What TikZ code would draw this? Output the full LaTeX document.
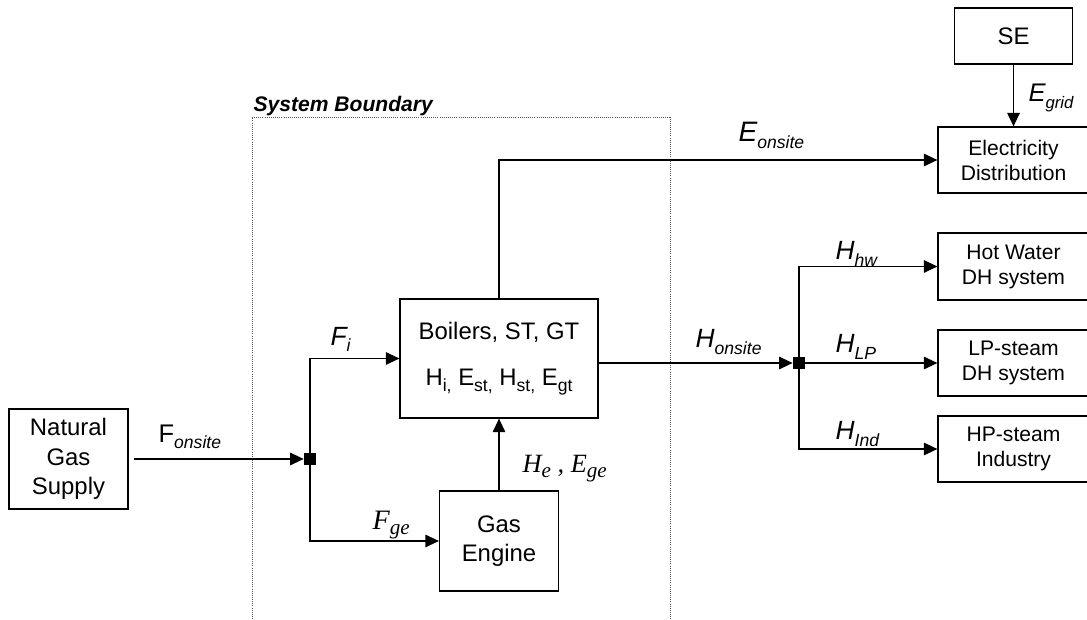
\documentclass[tikz,border=0pt]{standalone}
\usepackage{fontspec}
\setmainfont{Liberation Sans}
\newfontfamily\tms{Liberation Serif}
\usetikzlibrary{arrows.meta}
\newcommand{\sbs}[1]{\raisebox{-0.45ex}{\fontsize{10}{12}\selectfont #1}}
\newcommand{\flow}[2]{{\fontsize{15}{18}\selectfont\itshape #1\sbs{#2}}}
\newcommand{\tsb}[1]{\raisebox{-0.45ex}{\fontsize{12}{14}\selectfont #1}}
\begin{document}
\begin{tikzpicture}[x=1cm,y=1cm,line width=0.7pt,
  boxl/.style={draw,rectangle,inner sep=0pt,align=center,font=\fontsize{13.6}{16.8}\selectfont},
  boxr/.style={draw,rectangle,inner sep=0pt,align=center,minimum width=3.02cm,minimum height=1.32cm,font=\fontsize{12}{14.2}\selectfont},
  jct/.style={fill=black,rectangle,minimum size=0.23cm,inner sep=0pt},
  flowlbl/.style={anchor=base west,inner sep=0pt},
  flw/.style={-{Triangle[length=0.27cm,width=0.25cm]}},
  bndry/.style={draw=black!65,line width=0.4pt,dash pattern=on 0.5pt off 0.7pt}]
\path[use as bounding box] (0,0) rectangle (21.74,12.38);
% System boundary, open at the bottom.
\draw[bndry] (5.0400,0.0000) -- (5.0400,10.0400) -- (13.4000,10.0400) -- (13.4000,0.0000);
\node[flowlbl,font=\fontsize{12}{14}\selectfont\bfseries\itshape] (sblbl) at (5.0600,10.1400) {System Boundary};
% Node ngs: fuel source.
\node[boxl,minimum width=2.38cm,minimum height=2.0cm] (ngs) at (1.3700,3.2000) {Natural\\Gas\\Supply};
% Node boil: onsite plant.
\node[boxl,minimum width=3.96cm,minimum height=2.38cm] (boil) at (9.9800,5.2100) {Boilers, ST, GT\\[9.8pt]H\sbs{i,} E\sbs{st,} H\sbs{st,} E\sbs{gt}};
% Node ge: gas engine.
\node[boxl,minimum width=2.38cm,minimum height=2.0cm] (ge) at (9.9800,1.5600) {Gas\\Engine};
% Node se: grid.
\node[boxl,minimum width=2.36cm,minimum height=1.12cm] (se) at (20.2700,11.6600) {SE};
% Nodes elec, hw, lp, hp: consumers.
\node[boxr] (elec) at (20.2700,9.1800) {Electricity\\Distribution};
\node[boxr,minimum height=1.34cm] (hw) at (20.2700,7.0500) {Hot Water\\DH system};
\node[boxr] (lp) at (20.2700,5.1200) {LP-steam\\DH system};
\node[boxr] (hp) at (20.2700,3.4000) {HP-steam\\Industry};
% Nodes j1, j2: junctions.
\node[jct] (j1) at (6.2000,3.2000) {};
\node[jct] (j2) at (15.9800,5.1200) {};
% Fuel edges.
\draw[flw,shorten <=0.1cm] (ngs.east) -- (j1.west);
\draw[flw] (j1.center) |- (boil.west);
\draw[flw] (j1.center) |- (ge.west);
\draw[flw] (ge.north) -- (boil.south);
% Electricity edges.
\draw[flw] (boil.north) |- (elec.west);
\draw[flw] (se.south) -- (elec.north);
% Heat edges.
\draw[flw] (boil.east |- j2) -- (j2.west);
\draw[flw] (j2.center) |- (hw.west);
\draw[flw] (j2.east) -- (lp.west);
\draw[flw] (j2.center) |- (hp.west);
% Flow labels.
\node[flowlbl] (lfon) at (3.1600,3.5400) {{\fontsize{14.5}{17}\selectfont F\sbs{\itshape onsite}}};
\node[flowlbl] (lfi) at (6.6000,5.4800) {\flow{F}{i}};
\node[flowlbl] (lfge) at (7.4400,1.8000) {{\tms\fontsize{16}{18}\selectfont\itshape F\tsb{ge}}};
\node[flowlbl] (lhe) at (10.4400,2.9400) {{\tms\fontsize{15}{18}\selectfont\itshape H\tsb{e} , E\tsb{ge}}};
\node[flowlbl] (leon) at (14.7600,9.5400) {{\fontsize{16}{18}\selectfont\itshape E\sbs{onsite}}};
\node[flowlbl] (legr) at (20.5600,10.3400) {{\fontsize{14.5}{16}\selectfont\itshape E\raisebox{-0.5ex}{\fontsize{9.5}{10}\selectfont grid}}};
\node[flowlbl] (lhon) at (13.9000,5.4200) {\flow{H}{onsite}};
\node[flowlbl] (lhhw) at (16.7000,7.1800) {\flow{H}{hw}};
\node[flowlbl] (lhlp) at (16.7000,5.3200) {\flow{H}{LP}};
\node[flowlbl] (lhin) at (16.7000,3.5800) {\flow{H}{Ind}};
\end{tikzpicture}
\end{document}
